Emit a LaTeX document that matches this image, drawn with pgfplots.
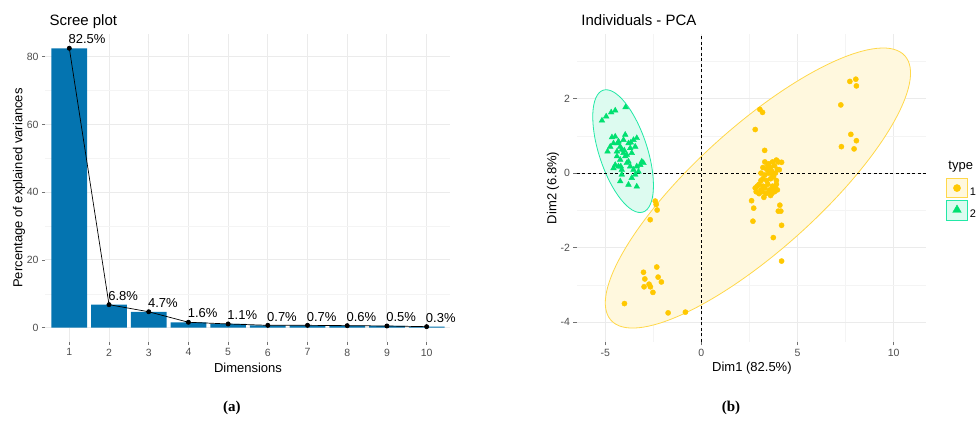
\documentclass[border=0pt]{standalone}
\usepackage{fontspec}
\setmainfont{Liberation Sans}
\newfontfamily\capfont{Liberation Serif}
\usepackage{pgfplots}
\pgfplotsset{compat=1.18}

\definecolor{barblue}{HTML}{0474B0}
\definecolor{gridmaj}{HTML}{EBEBEB}
\definecolor{gridmin}{HTML}{F4F4F4}
\definecolor{ticktxt}{HTML}{4D4D4D}
\definecolor{grp1}{HTML}{FFC800}
\definecolor{grp1line}{HTML}{FFD84A}
\definecolor{grp1fill}{HTML}{FFF8DE}
\definecolor{grp2}{HTML}{00E070}
\definecolor{grp2line}{HTML}{22E8A6}
\definecolor{grp2fill}{HTML}{DDFBF0}

\newcommand{\fs}[1]{\fontsize{#1bp}{1.2\dimexpr #1bp\relax}\selectfont}

\pgfplotsset{
  ggmin/.style={
    scale only axis,
    anchor=south west,
    axis line style={draw=none},
    tick align=outside,
    major tick length=3.5bp,
    minor tick length=0pt,
    xtick pos=bottom, ytick pos=left,
    tick style={color=ticktxt!80, line width=0.8bp},
    major grid style={draw=gridmaj, line width=1bp},
    minor grid style={draw=gridmin, line width=0.6bp},
    ticklabel style={font=\fs{10.5}, text=ticktxt},
    /pgf/number format/assume math mode=true,
  }
}

\begin{document}
\begin{tikzpicture}[x=1bp,y=1bp]
\path (0,0) rectangle (978,436);

% ---------------- Scree plot ----------------
\begin{axis}[ggmin,
  at={(45.5bp,94.3bp)}, width=405bp, height=307.4bp,
  xmin=0.4, xmax=10.6, ymin=-4.125, ymax=86.625,
  xtick={1,...,10}, ytick={0,20,40,60,80},
  minor ytick={10,30,50,70},
  xmajorgrids, ymajorgrids, yminorgrids,
]
\addplot[ybar, bar width=0.9, bar shift=0pt, fill=barblue, draw=none]
  coordinates {(1,82.5) (2,6.8) (3,4.7) (4,1.6) (5,1.1) (6,0.7) (7,0.7) (8,0.6) (9,0.5) (10,0.3)};
\addplot[black, line width=0.7bp, mark=*, mark size=2.1bp,
  point meta=explicit symbolic, nodes near coords,
  nodes near coords style={anchor=base west, inner sep=0pt, xshift=-1bp, yshift=4.3bp,
    font=\fs{13}, text=black}]
  coordinates {(1,82.5)[82.5\%] (2,6.8)[6.8\%] (3,4.7)[4.7\%] (4,1.6)[1.6\%] (5,1.1)[1.1\%]
               (6,0.7)[0.7\%] (7,0.7)[0.7\%] (8,0.6)[0.6\%] (9,0.5)[0.5\%] (10,0.3)[0.3\%]};
\end{axis}
\node[anchor=base west, font=\fs{15}] at (46,410) {Scree plot};
\node[anchor=center, font=\fs{13}] at (248,68.5) {Dimensions};
\node[rotate=90, anchor=center, font=\fs{13}] at (19,248) {Percentage of explained variances};

% ---------------- Individuals - PCA ----------------
\begin{axis}[ggmin,
  at={(577bp,94bp)}, width=349.3bp, height=307.5bp,
  xmin=-6.47, xmax=11.69, ymin=-4.53, ymax=3.72,
  xtick={-5,0,5,10}, ytick={-4,-2,0,2},
  minor xtick={-2.5,2.5,7.5}, minor ytick={-3,-1,1,3},
  xmajorgrids, ymajorgrids, xminorgrids, yminorgrids,
  legend style={at={(1.0564,0.5333)}, anchor=north west, draw=none, fill=none,
    inner sep=0pt, row sep=1bp, font=\fs{11}, cells={anchor=west}},
]
% concentration ellipses of the two groups
\draw[grp1line, line width=0.8bp, fill=grp1fill, rotate around={42:(axis cs:2.94,-0.40)}]
  (axis cs:2.94,-0.40) ellipse [x radius=197.7bp, y radius=61.7bp];
\draw[grp2line, line width=0.8bp, fill=grp2fill, rotate around={108.1:(axis cs:-4.07,0.59)}]
  (axis cs:-4.07,0.59) ellipse [x radius=64.1bp, y radius=24.1bp];
% reference lines through the origin
\draw[black, line width=0.6bp, dash pattern=on 3bp off 2.5bp] (axis cs:-6.47,0) -- (axis cs:11.69,0);
\draw[black, line width=0.6bp, dash pattern=on 3bp off 2.5bp] (axis cs:0,-4.53) -- (axis cs:0,3.72);

\addplot[only marks, mark=*, mark size=2.6bp, mark options={draw=grp1, fill=grp1},
  legend image code/.code={
    \draw[grp1line, fill=grp1fill, line width=0.8bp] (0bp,-5.5bp) rectangle (21bp,13.5bp);
    \fill[grp1] (10.5bp,4bp) circle (3.6bp);}]
  table {
x y
7.72 2.46
8.03 2.52
8.06 2.34
7.25 1.83
7.77 1.04
8.06 0.87
7.28 0.71
7.94 0.65
3.04 1.71
3.18 1.63
2.80 1.17
3.29 0.61
4.05 0.09
4.17 0.29
3.30 0.30
3.50 0.25
3.70 0.30
3.90 0.35
4.00 0.30
3.20 0.15
3.40 0.10
3.60 0.15
3.80 0.20
3.95 0.10
3.10 0.00
3.30 -0.05
3.50 0.00
3.70 -0.05
3.85 0.00
3.20 -0.15
3.40 -0.20
3.60 -0.15
3.75 -0.10
3.90 -0.20
2.80 -0.40
2.90 -0.35
3.00 -0.30
3.10 -0.45
3.20 -0.35
3.30 -0.40
3.45 -0.30
3.55 -0.45
3.70 -0.35
3.85 -0.40
2.85 -0.50
3.00 -0.55
3.15 -0.50
3.35 -0.55
3.50 -0.50
3.65 -0.55
3.80 -0.50
3.95 -0.45
3.25 -0.65
3.60 -0.60
3.75 -0.45
3.10 -0.20
3.45 0.20
3.65 0.05
3.90 -0.30
2.61 -0.74
2.72 -0.94
2.68 -1.29
4.08 -0.86
4.00 -1.02
4.13 -1.02
4.17 -1.40
3.74 -1.73
4.17 -2.36
-2.40 -0.75
-2.35 -0.84
-2.30 -0.99
-2.66 -1.25
-3.01 -2.66
-2.94 -2.84
-2.32 -2.52
-2.25 -2.79
-2.08 -2.92
-2.98 -3.05
-2.72 -2.98
-2.65 -3.05
-2.52 -3.20
-4.00 -3.50
-1.73 -3.75
-0.83 -3.73
};
\addlegendentry{1}
\addplot[only marks, mark=triangle*, mark size=3.3bp, mark options={draw=grp2, fill=grp2},
  legend image code/.code={
    \draw[grp2line, fill=grp2fill, line width=0.8bp] (0bp,-6.5bp) rectangle (21bp,14bp);
    \fill[grp2] (10.5bp,4bp) ++(90:5bp) -- ++(-120:8.66bp) -- ++(0:8.66bp) -- cycle;}]
  table {
x y
-5.17 1.41
-4.95 1.52
-4.69 1.63
-4.48 1.68
-3.94 1.77
-4.65 0.96
-4.48 0.98
-4.31 0.85
-3.96 1.03
-4.88 0.58
-4.74 0.71
-4.57 0.80
-4.22 0.71
-4.14 0.63
-4.05 0.54
-3.79 0.80
-3.70 0.67
-3.62 0.54
-3.53 0.89
-3.44 0.71
-3.36 0.94
-4.39 0.45
-4.22 0.36
-3.96 0.45
-3.79 0.31
-4.48 0.22
-4.57 0.13
-4.31 0.18
-4.14 0.09
-3.88 0.27
-3.70 0.18
-3.53 0.09
-3.36 0.18
-3.18 0.22
-3.10 0.31
-3.01 0.27
-3.27 0.04
-3.44 -0.04
-3.62 -0.13
-4.22 -0.22
-4.14 -0.04
-3.79 -0.31
-3.36 -0.36
-4.39 0.58
-4.01 0.61
-3.88 0.49
-4.36 0.80
-4.05 0.89
-3.67 0.82
-4.19 0.18
};
\addlegendentry{2}
\end{axis}
\node[anchor=base west, font=\fs{15}] at (578,410) {Individuals - PCA};
\node[anchor=center, font=\fs{13}] at (752,68) {Dim1 (82.5\%)};
\node[rotate=90, anchor=center, font=\fs{13}] at (553,248) {Dim2 (6.8\%)};
\node[anchor=base west, font=\fs{13}] at (945,266) {type};

% panel captions
\node[font=\capfont\bfseries\fs{15}] at (232,28) {(a)};
\node[font=\capfont\bfseries\fs{15}] at (731,28) {(b)};
\end{tikzpicture}
\end{document}
